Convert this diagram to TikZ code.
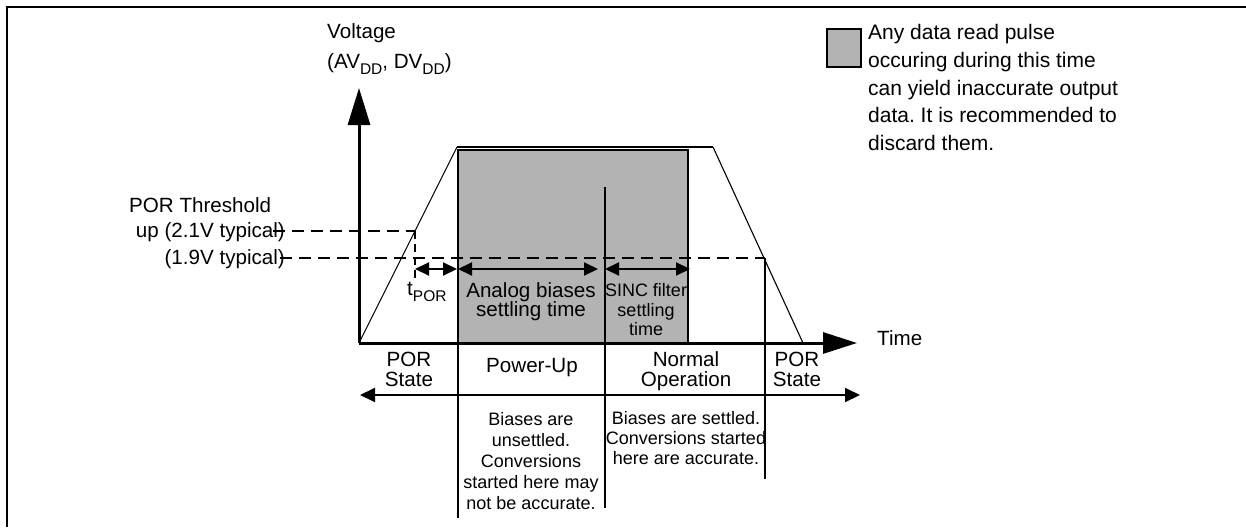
\documentclass[tikz,border=0pt]{standalone}
\usepackage{fontspec}
\setmainfont{Liberation Sans}
\usetikzlibrary{arrows.meta}
\definecolor{pulsegray}{RGB}{179,179,179}
\newcommand{\lowsub}[1]{\raisebox{-0.3em}{\fontsize{15.5}{15.5}\selectfont #1}}
\frenchspacing
\begin{document}
\begin{tikzpicture}[x=1pt,y=-1pt,
  lab/.style={inner sep=0pt, anchor=base, font=\fontsize{20.6}{24}\selectfont},
  labw/.style={lab, anchor=base west},
  labe/.style={lab, anchor=base east},
  small/.style={inner sep=0pt, anchor=base, font=\fontsize{18}{20}\selectfont},
  leg/.style={inner sep=0pt, anchor=base west, font=\fontsize{21}{27}\selectfont},
  axis/.style={line width=3pt},
  sep/.style={line width=2pt},
  thr/.style={line width=1.8pt, dash pattern=on 12pt off 7pt},
  dim/.style={line width=2pt, {Triangle[length=14pt,width=13pt]}-{Triangle[length=14pt,width=13pt]}},
  span/.style={line width=2pt, {Triangle[length=15pt,width=14pt]}-{Triangle[length=15pt,width=14pt]}}
]
\useasboundingbox (0,0) rectangle (1246,527);
% frame
\coordinate (fbl) at (7,527);
\coordinate (ftl) at (7,7);
\coordinate (ftr) at (1246,7);
\draw[line width=2pt] (fbl) -- (ftl) -- (ftr);

% key coordinates
\coordinate (O) at (359,343);
\coordinate (ytip) at (359,88);
\coordinate (xtip) at (857,343);
\coordinate (r1) at (457,147);
\coordinate (r2) at (713,147);
\coordinate (r3) at (803,343);
\coordinate (gTL) at (458,150);
\coordinate (gTR) at (688,150);
\coordinate (gBL) at (458,343);
\coordinate (gBR) at (688,343);

% shaded region
\fill[pulsegray] (gTL) rectangle (gBR);

% threshold dashed lines
\coordinate (u0) at (273,231);
\coordinate (u1) at (415,231);
\coordinate (l0) at (280,258);
\coordinate (l1) at (765,258);
\coordinate (ud) at (415,282);
\draw[thr] (u0) -- (u1);
\draw[thr] (l0) -- (l1);
\draw[line width=1.6pt, dash pattern=on 8pt off 5pt] (u1) -- (ud);

% voltage waveform
\draw[line width=1.1pt] (O) -- (r1);
\draw[line width=1.1pt] (r2) -- (r3);
\draw[line width=1.8pt] (r1) -- (r2);

% shaded region border
\draw[line width=2.5pt] (gBL) -- (gTL) -- (gTR) -- (gBR);

% separators
\coordinate (s1b) at (458,518);
\coordinate (s2t) at (605,187);
\coordinate (s2b) at (605,508);
\coordinate (s3b) at (765,479);
\draw[sep] (gBL) -- (s1b);
\draw[sep] (s2t) -- (s2b);
\draw[sep] (l1) -- (s3b);

% axes
\draw[axis, -{Triangle[length=37pt,width=22pt]}] (O) -- (ytip);
\draw[axis, -{Triangle[length=34pt,width=21pt]}] (O) -- (xtip);

% dimension arrows
\coordinate (t0) at (415,269);
\coordinate (t1) at (457,269);
\coordinate (a0) at (458,269);
\coordinate (a1) at (598,269);
\coordinate (c0) at (605,269);
\coordinate (c1) at (690,269);
\draw[dim] (t0) -- (t1);
\draw[dim] (a0) -- (a1);
\draw[dim] (c0) -- (c1);

% state span arrow
\coordinate (b0) at (360,395);
\coordinate (b1) at (860,395);
\draw[span] (b0) -- (b1);

% axis labels
\node[labw] (volt) at (327,38.5) {Voltage};
\node[labw] (vdd) at (327,68.5) {(AV\lowsub{DD}, DV\lowsub{DD})};
\node[labw] (time) at (877,345) {Time};

% threshold labels
\node[labw] (por1) at (129,212) {POR Threshold};
\node[labe] (por2) at (285,237) {up (2.1V typical)};
\node[labe] (por3) at (285,264) {(1.9V typical)};

% interval labels
\node[labw] (tpor) at (407,295) {t\lowsub{POR}};
\node[lab] (an1) at (531,297) {Analog biases};
\node[lab] (an2) at (531,316) {settling time};
\node[small] (si1) at (646,296) {SINC filter};
\node[small] (si2) at (646,316) {settling};
\node[small] (si3) at (646,335) {time};

% state labels
\node[lab] (ps1) at (409,366) {POR};
\node[lab] (ps2) at (409,386) {State};
\node[lab] (pu) at (532,372) {Power-Up};
\node[lab] (no1) at (686,366) {Normal};
\node[lab] (no2) at (686,386) {Operation};
\node[lab] (pr1) at (797,366) {POR};
\node[lab] (pr2) at (797,386) {State};

% notes
\node[small] (n1) at (531,425) {Biases are};
\node[small] (n2) at (531,446) {unsettled.};
\node[small] (n3) at (531,467) {Conversions};
\node[small] (n4) at (531,488) {started here may};
\node[small] (n5) at (531,509) {not be accurate.};
\node[small] (m1) at (686,424) {Biases are settled.};
\node[small] (m2) at (686,444) {Conversions started};
\node[small] (m3) at (686,464) {here are accurate.};

% legend
\node[draw, line width=2pt, fill=pulsegray, minimum width=34pt, minimum height=37pt, inner sep=0pt, anchor=north west] (key) at (826,28.5) {};
\node[leg] (k1) at (868,40) {Any data read pulse};
\node[leg] (k2) at (868,67.5) {occuring during this time};
\node[leg] (k3) at (868,95) {can yield inaccurate output};
\node[leg] (k4) at (868,122.5) {data. It is recommended to};
\node[leg] (k5) at (868,150) {discard them.};
\end{tikzpicture}
\end{document}
